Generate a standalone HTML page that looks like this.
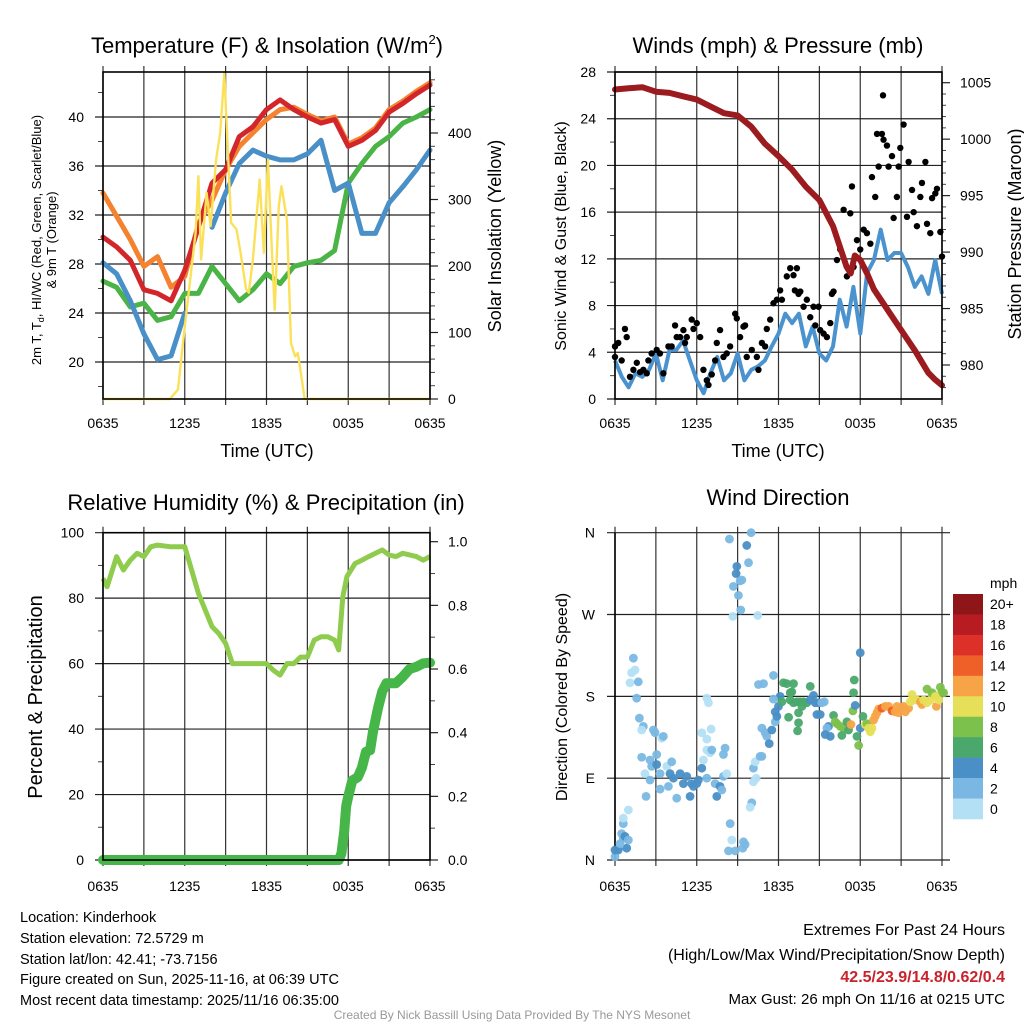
<!DOCTYPE html>
<html><head><meta charset="utf-8">
<style>
html,body{margin:0;padding:0;background:#fff;}
svg{display:block;font-family:"Liberation Sans",sans-serif;}
</style></head>
<body>
<svg id="fig" width="1024" height="1024" viewBox="0 0 1024 1024" xmlns="http://www.w3.org/2000/svg">
<rect x="0" y="0" width="1024" height="1024" fill="#fff"/>
<g id="layer"></g>
<text x="267" y="53" font-size="22" text-anchor="middle">Temperature (F) &amp; Insolation (W/m<tspan font-size="13" dy="-9">2</tspan><tspan dy="9">)</tspan></text>
<text x="778" y="53" font-size="22" text-anchor="middle">Winds (mph) &amp; Pressure (mb)</text>
<text x="266" y="510" font-size="22" text-anchor="middle">Relative Humidity (%) &amp; Precipitation (in)</text>
<text x="778" y="505" font-size="22" text-anchor="middle">Wind Direction</text>
<text x="267" y="457" font-size="18" text-anchor="middle">Time (UTC)</text>
<text x="778" y="457" font-size="18" text-anchor="middle">Time (UTC)</text>
<text transform="translate(41,240) rotate(-90)" font-size="13" text-anchor="middle">2m T, T<tspan font-size="9" dy="3">d</tspan><tspan dy="-3">, HI/WC (Red, Green, Scarlet/Blue)</tspan></text>
<text transform="translate(56,240) rotate(-90)" font-size="13" text-anchor="middle">&amp; 9m T (Orange)</text>
<text transform="translate(501,236) rotate(-90)" font-size="18" text-anchor="middle">Solar Insolation (Yellow)</text>
<text transform="translate(566,236) rotate(-90)" font-size="16" text-anchor="middle">Sonic Wind &amp; Gust (Blue, Black)</text>
<text transform="translate(1021,234) rotate(-90)" font-size="18" text-anchor="middle">Station Pressure (Maroon)</text>
<text transform="translate(42,697) rotate(-90)" font-size="20" text-anchor="middle">Percent &amp; Precipitation</text>
<text transform="translate(567,697) rotate(-90)" font-size="16" text-anchor="middle">Direction (Colored By Speed)</text>
<g font-size="14.5">
<text x="20" y="922">Location: Kinderhook</text>
<text x="20" y="943">Station elevation: 72.5729 m</text>
<text x="20" y="964">Station lat/lon: 42.41; -73.7156</text>
<text x="20" y="984">Figure created on Sun, 2025-11-16, at 06:39 UTC</text>
<text x="20" y="1005">Most recent data timestamp: 2025/11/16 06:35:00</text>
</g>
<g font-size="16" text-anchor="end">
<text x="1005" y="935">Extremes For Past 24 Hours</text>
<text x="1005" y="960">(High/Low/Max Wind/Precipitation/Snow Depth)</text>
<text x="1005" y="982" fill="#c8232c" font-weight="bold">42.5/23.9/14.8/0.62/0.4</text>
<text x="1005" y="1004" font-size="15">Max Gust: 26 mph On 11/16 at 0215 UTC</text>
</g>
<text x="512" y="1019" font-size="12" fill="#999" text-anchor="middle">Created By Nick Bassill Using Data Provided By The NYS Mesonet</text>
</svg>
<script>
// ---------- DATA ----------
const xTickLabels = ["0635","1235","1835","0035","0635"];
const hours = [0,1,2,3,4,5,6,7,8,9,10,11,12,13,14,15,16,17,18,19,20,21,22,23,24];
const tempRed = [30.2,29.4,28.3,25.9,25.6,25,27.5,31,34.6,35.7,38.4,39.2,40.6,41.4,40.6,40,39.5,39.8,37.6,38.1,38.9,40.4,41.1,41.9,42.6];
const tempOrange = [33.8,31.9,30,27.8,28.6,26.1,27,31.3,33.2,35.7,37.6,38.7,39.8,40.6,40.8,40.2,39.7,40,37.8,38.3,39.1,40.6,41.3,42.1,42.8];
const tempGreen = [26.6,26.1,24.5,24.8,23.4,23.7,25.6,25.6,27.8,26.4,25,25.9,27.2,26.4,27.8,28.1,28.3,29.1,34.6,36.2,37.6,38.4,39.5,40,40.6];
const tempBlue = [28.1,27.2,25,22.3,20.2,20.5,24,null,31,33.8,36.2,37.3,36.8,36.5,36.5,37,38.1,34,34.6,30.5,30.5,33,34.3,35.7,37.3];
const solarHours = [0,4.9,5.5,6,6.8,7,7.2,7.6,7.9,8.3,8.6,8.9,9.2,9.4,9.8,10.1,10.5,10.7,11,11.5,11.8,12.1,12.4,12.6,12.9,13.1,13.5,13.8,14.1,14.3,14.6,14.8,24];
const solarValues = [0,0,14,109,250,335,210,310,260,360,400,490,360,265,255,220,165,160,210,330,220,360,220,134,290,320,270,84,64,69,29,0,0];
const tempTicks = [20,24,28,32,36,40];
const solarTicks = [0,100,200,300,400];

const windBlue = [3.3,1.9,1,2.2,1.9,2.5,3.9,1.6,4.2,4.2,5,3.3,1.6,0.5,2.2,3.6,1.6,2.2,3.9,1.6,2.5,2.8,3.3,4.5,5.6,7.3,6.5,7.3,4.5,6.2,3.9,3.3,4.5,8.5,6.2,9.6,5.6,10.8,11.9,14.5,11.9,12.5,12.5,11.3,9.6,10.5,9,11.9,9];
const pressureHours = [0,1,2,3,4,5,6,7,8,9,10,11,12,13,14,15,16,17,17.3,17.6,18,18.5,19,20,21,22,23,23.5,24];
const pressureValues = [1004.4,1004.5,1004.6,1004.2,1004.1,1003.8,1003.5,1002.9,1002.3,1002.1,1001.1,999.6,998.5,997.3,995.8,994.6,992.3,988.7,988.1,989.7,989.3,988.1,986.7,984.9,983.1,981.3,979.3,978.7,978.2];
const gustHours = [0,0,0.24,0.49,0.73,0.86,1.1,1.35,1.6,1.84,2.08,2.33,2.45,2.69,3.06,3.3,3.55,3.92,4.16,4.41,4.53,4.78,5.02,5.14,5.27,5.63,5.76,6,6.25,6.49,6.74,6.86,7.1,7.35,7.47,7.71,7.96,8.2,8.45,8.82,8.94,9.18,9.43,9.55,9.67,10.04,10.41,10.53,10.78,11.02,11.14,11.39,11.63,11.88,12.12,12.25,12.61,12.86,13.1,13.35,13.2,13.47,13.6,13.84,14.08,14.33,14.57,14.7,14.94,15.06,15.31,15.55,15.8,15.92,16.04,16.29,16.53,16.78,17.02,17.27,17.39,17.51,17.76,18,18.25,18.49,18.74,18.86,19.1,19.23,19.35,19.59,19.67,19.71,19.96,20.08,20.33,20.45,20.69,20.82,20.94,21.18,21.43,21.55,21.8,21.92,22.16,22.41,22.53,22.78,22.9,23.14,23.27,23.51,23.63,23.88,24];
const gustValues = [3.6,4.5,4.8,3.3,6,5.3,1.9,2.5,3.1,2.3,2.5,2.2,3.3,3.9,4.2,3.9,2.2,4.5,4.5,6.3,5.3,5.3,5.9,4.8,5.3,6.8,6,6.5,5.3,2.5,1.6,1.2,2.1,3.3,4.8,5.9,3.6,3.9,4.5,7.3,6.9,5.3,6.2,6.3,3.6,4.2,3.6,2.5,4.8,4.5,6,6.8,8.2,8.5,9.3,8.5,10.5,11.2,10.6,11.2,9.3,9,9.2,7.9,8.5,7,7.9,6.3,7.9,5.9,5.6,5.3,6.5,9,9.2,11.9,12.8,16.2,10.5,15.9,18.2,11.3,13.6,12.8,14.5,14.2,13.3,19,17.3,22.7,19.9,22.7,26,22.2,21.7,19.9,20.8,15.5,17.3,19.9,21.5,23.5,15.6,20.3,17.9,16,14.8,17.3,18.5,20.3,15,14.2,17.2,17.6,18,14.3,12.2];
const windTicks = [0,4,8,12,16,20,24,28];
const pressureTicks = [980,985,990,995,1000,1005];

const rhHours = [0,0.3,1,1.5,2,2.5,3,3.5,4,5,6,6.5,7,7.5,8,8.5,9,9.5,10,11,12,12.5,13,13.5,14,14.5,15,15.5,16,16.5,17,17.3,17.6,17.9,18.5,19,19.5,20,20.5,21,21.5,22,23,23.5,24];
const rhValues = [86,83.5,92.7,88.6,91.6,93.7,92.7,95.7,96.2,95.7,95.7,88.6,81.5,76.4,71.3,69.2,66.2,60,60,60,60,58,56.5,60,60,62,62,67.2,68.2,68.2,67.2,64.2,80.4,86.6,90.6,91.6,92.7,93.7,94.7,93.2,92.7,93.7,92.7,91.6,92.7];
const precipHours = [0,17.3,17.5,17.7,17.85,18,18.3,18.7,19,19.3,19.6,19.8,20,20.2,20.5,20.8,21.5,22,22.5,23,23.5,24];
const precipValues = [0,0,0.02,0.09,0.17,0.2,0.25,0.26,0.29,0.34,0.345,0.4,0.44,0.48,0.53,0.555,0.555,0.576,0.6,0.607,0.618,0.62];
const rhTicks = [0,20,40,60,80,100];
const precipTicks = [0,0.2,0.4,0.6,0.8,1.0];

const dirHours = [
0,0,0.24,0.86,0.37,0.61,0.49,0.73,0.98,0.61,
0.61,0.98,1.35,1.47,1.22,1.1,1.71,1.59,1.79,2.08,
1.96,2.82,2.94,3.43,3.55,1.96,2.57,3.06,2.69,2.2,
3.06,3.31,3.8,4.16,4.04,4.29,4.78,5.02,5.27,5.63,
5.76,6.12,6.0,2.57,3.31,3.92,4.53,5.51,2.28,6.74,
6.37,6.49,6.74,6.98,7.1,6.37,6.74,7.05,6.74,6.86,
7.35,7.71,7.47,7.84,7.96,7.96,8.08,8.2,8.4,8.94,
8.89,8.69,9.18,9.31,9.06,9.23,8.65,9.67,9.8,9.99,
10.48,8.45,8.57,8.33,8.82,9.43,9.55,9.38,10.04,9.92,
10.16,10.36,10.16,10.29,10.65,10.78,10.78,11.02,11.14,11.32,
11.51,11.76,11.88,11.76,12.0,12.12,11.63,10.53,10.9,11.63,
12.37,12.61,13.1,12.25,12.86,13.1,13.35,13.59,13.72,13.84,
14.08,13.47,12.74,13.47,13.4,14.33,14.33,14.57,14.7,14.94,
15.18,15.36,14.82,15.06,12.98,12.86,16.04,15.67,15.55,15.43,
15.8,16.16,16.29,16.53,16.78,16.65,17.02,17.14,17.32,17.46,
17.63,17.51,17.56,18.0,17.76,17.88,18.0,18.2,18.37,18.49,
18.61,18.74,18.86,18.98,19.1,19.23,19.35,19.59,19.84,20.08,
20.33,20.57,20.7,20.82,20.99,21.19,21.31,21.55,21.67,21.92,
21.8,22.16,22.41,22.53,22.65,22.9,23.14,23.39,22.9,23.27,
23.59,23.76,23.88,24.0,24.12,23.51];
const dirDegrees = [
3.7,11,11,13,18,24,29,26,22,40,
46,55,222,209,206,195,196,178,156,147,
143,143,140,134,136,113,110,116,103,95,
105,95,103,108,95,90,95,84,92,84,
81,88,84,88,78,81,68,70,70,90,
101,110,121,118,121,140,133,144,178,173,
84,81,70,77,92,116,123,95,353,323,
315,301,307,308,291,275,268,346,327,360,
269,40,22,10,10,20,17,13,63,58,
86,90,101,108,114,114,145,140,136,128,
143,152,158,163,169,180,177,193,194,203,
195,194,194,174,176,173,174,174,169,174,
173,162,157,151,142,191,176,181,173,173,
173,174,160,160,185,184,159,147,145,138,
136,152,150,147,145,137,152,143,149,164,
170,184,198,228,136,126,145,158,149,150,
145,141,145,154,158,162,166,167,169,169,
164,163,169,162,167,169,163,167,174,176,
182,176,174,171,176,173,176,182,188,184,
169,176,190,185,184,180];
const dirSpeed = [
3,5,5,5,3,3,3,5,3,3,
1,1,3,1,1,1,3,3,3,3,
1,3,3,1,3,3,3,3,3,1,
5,3,1,3,5,5,5,5,5,5,
5,5,5,3,3,3,3,5,3,3,
5,1,1,1,3,1,1,1,1,1,
3,5,5,3,3,3,3,1,3,5,
5,3,3,3,3,3,1,5,3,3,
1,3,1,3,3,3,3,3,3,1,
1,1,3,1,3,3,3,3,3,5,
5,3,5,5,5,5,3,3,3,3,
7,7,7,7,7,7,7,7,7,7,
7,7,7,7,7,7,5,5,5,5,
3,3,5,5,7,7,7,5,3,5,
5,9,9,9,9,7,7,7,13,9,
5,7,7,5,7,9,5,7,11,9,
11,11,11,13,13,13,13,15,13,13,
15,13,13,13,13,13,13,13,11,11,
11,11,13,13,11,11,11,11,9,9,
13,11,9,9,9,11];
const speedBins = [0,2,4,6,8,10,12,14,16,18,20];
const speedColors = ["#b3e0f5","#7ab8e3","#4a8fc6","#4aa86c","#7cc14b","#e6df58","#f7a446","#ef6029","#dc3028","#b71c23","#8e1518"];
const speedLabels = ["0","2","4","6","8","10","12","14","16","18","20+"];
const dirTicks = [0,90,180,270,360];
const dirLabels = ["N","E","S","W","N"];

// ---------- HELPERS ----------
const NS = "http://www.w3.org/2000/svg";
const layer = document.getElementById('layer');
function mk(tag, attrs, parent){ const e=document.createElementNS(NS,tag); for(const k in attrs) e.setAttribute(k,attrs[k]); (parent||layer).appendChild(e); return e; }
function lin(d0,d1,r0,r1){ return v => r0 + (v-d0)/(d1-d0)*(r1-r0); }
function pathFrom(xs, ys, xf, yf){ let d="", pen=false; for(let i=0;i<xs.length;i++){ if(ys[i]===null||ys[i]===undefined){pen=false;continue;} d+=(pen?"L":"M")+xf(xs[i]).toFixed(1)+","+yf(ys[i]).toFixed(1); pen=true;} return d; }

function frame(name, x0, x1, y0, y1){
  const g = mk('g',{});
  
  
  for(let i=0;i<=8;i++){ const x=x0+(x1-x0)*i/8;
    mk('line',{x1:x,y1:y0-6,x2:x,y2:y1+6,stroke:'#333','stroke-width':1.2},g);
  }
  return g;
}
function xLabels(name,x0,x1,y){
  const g=mk('g',{'font-size':14,'text-anchor':'middle'});
  
  
  xTickLabels.forEach((t,i)=>{ const e=mk('text',{x:x0+(x1-x0)*i/4,y:y},g); e.textContent=t; });
}
function hLines(g, ticks, yf, x0, x1){ ticks.forEach(v=>{ mk('line',{x1:x0-8,y1:yf(v),x2:x1,y2:yf(v),stroke:'#222','stroke-width':1.2},g); }); }
function yLabels(name, ticks, labels, yf, x, anchor){
  const g=mk('g',{'font-size':14,'text-anchor':anchor});
  
  
  ticks.forEach((v,i)=>{ const e=mk('text',{x:x,y:yf(v)+5},g); e.textContent=labels?labels[i]:String(v); });
}
function minorTicks(vals, yf, x, dir, len){ vals.forEach(v=>mk('line',{x1:x,y1:yf(v),x2:x+dir*len,y2:yf(v),stroke:'#444','stroke-width':1})); }
function border(x0,x1,y0,y1){ mk('rect',{x:x0,y:y0,width:x1-x0,height:y1-y0,fill:'none',stroke:'#000','stroke-width':1.6}); }

// ---------- PANEL 1: Temperature ----------
(function(){
  const X=lin(0,24,103,430), Y=lin(40,28,117,264), S=lin(0,400,399,133);
  const g=frame('temp',103,430,72,399);
  hLines(g,tempTicks,Y,103,430);
  const mt=[]; for(let t=18;t<=43;t+=2) if(tempTicks.indexOf(t)<0) mt.push(t); minorTicks(mt,Y,103,-1,5);
  const ms=[]; for(let s=20;s<=480;s+=20) if(s%100) ms.push(s); minorTicks(ms,S,430,1,5);
  solarTicks.forEach(v=>mk('line',{x1:430,y1:S(v),x2:438,y2:S(v),stroke:'#222','stroke-width':1.2}));
  yLabels('temp-y-tick-labels',tempTicks,null,Y,84,'end');
  yLabels('solar-y-tick-labels',solarTicks,null,S,448,'start');
  xLabels('temp',103,430,428);
  const series=[[tempGreen,'#4bb446','green-dewpoint-line'],[tempBlue,'#4a90c8','blue-windchill-line'],[tempOrange,'#f4822f','orange-9m-temp-line'],[tempRed,'#d3262b','red-2m-temp-line']];
  series.forEach(s=>{ const p=mk('path',{d:pathFrom(hours,s[0],X,Y),fill:'none',stroke:s[1],'stroke-width':5,'stroke-linejoin':'round','stroke-linecap':'round'});
    
     });
  const sp=mk('path',{d:pathFrom(solarHours,solarValues,X,S),fill:'none',stroke:'#fbe15a','stroke-width':2.4,'stroke-linejoin':'round'});
  
  
  border(103,430,72,399);
})();

// ---------- PANEL 2: Winds ----------
(function(){
  const X=lin(0,24,615,942), W=lin(0,28,399,72), P=lin(1005,980,82.7,365);
  const g=frame('wind',615,942,72,399);
  hLines(g,windTicks,W,615,942);
  const mw=[]; for(let w=2;w<28;w+=4) mw.push(w); minorTicks(mw,W,615,-1,5);
  const mp=[]; for(let p=978;p<=1005;p++) if(p%5) mp.push(p); minorTicks(mp,P,942,1,4);
  pressureTicks.forEach(v=>mk('line',{x1:942,y1:P(v),x2:950,y2:P(v),stroke:'#222','stroke-width':1.2}));
  yLabels('wind-y-tick-labels',windTicks,null,W,596,'end');
  yLabels('pressure-y-tick-labels',pressureTicks,null,P,960,'start');
  xLabels('wind',615,942,428);
  const bh = windBlue.map((v,i)=>i*0.5);
  const wl=mk('path',{d:pathFrom(bh,windBlue,X,W),fill:'none',stroke:'#4a93cf','stroke-width':4,'stroke-linejoin':'round'});
  
  
  const gg=mk('g',{fill:'#000'});
  
  
  gustHours.forEach((h,i)=>mk('circle',{cx:X(h),cy:W(gustValues[i]),r:3.2},gg));
  const pl=mk('path',{d:pathFrom(pressureHours,pressureValues,X,P),fill:'none',stroke:'#9b1b1e','stroke-width':6,'stroke-linejoin':'round','stroke-linecap':'round'});
  
  
  border(615,942,72,399);
})();

// ---------- PANEL 3: RH & Precip ----------
(function(){
  const X=lin(0,24,103,430), R=lin(0,100,860,532.7), Pr=lin(0,1,860,541.7);
  const g=frame('rh',103,430,532.7,860);
  hLines(g,rhTicks,R,103,430);
  const mr=[]; for(let r=10;r<100;r+=20) mr.push(r); minorTicks(mr,R,103,-1,5);
  const mp=[]; for(let p=0.1;p<1.05;p+=0.2) mp.push(p); minorTicks(mp,Pr,430,1,5);
  precipTicks.forEach(v=>mk('line',{x1:430,y1:Pr(v),x2:438,y2:Pr(v),stroke:'#222','stroke-width':1.2}));
  yLabels('rh-y-tick-labels',rhTicks,null,R,84,'end');
  yLabels('precip-y-tick-labels',precipTicks,precipTicks.map(v=>v.toFixed(1)),Pr,448,'start');
  xLabels('rh',103,430,891);
  const rl=mk('path',{d:pathFrom(rhHours,rhValues,X,R),fill:'none',stroke:'#8fcc4e','stroke-width':5,'stroke-linejoin':'round'});
  
  
  const pl=mk('path',{d:pathFrom(precipHours,precipValues,X,Pr),fill:'none',stroke:'#46b648','stroke-width':10,'stroke-linejoin':'round','stroke-linecap':'round'});
  
  
  border(103,430,532.7,860);
})();

// ---------- PANEL 4: Wind Direction ----------
(function(){
  const X=lin(0,24,615,942), D=lin(0,360,860,532.7);
  const g=frame('direction',615,942,532.7,860);
  hLines(g,dirTicks,D,615,950);
  mk('line',{x1:615,y1:532.7,x2:615,y2:860,stroke:'#000','stroke-width':1.6});
  yLabels('direction-y-tick-labels',dirTicks,dirLabels,D,595,'end');
  xLabels('direction',615,942,891);
  function col(s){ let c=0; for(let i=0;i<speedBins.length;i++) if(s>=speedBins[i]) c=i; return speedColors[c]; }
  const pg=mk('g',{});
  
  
  const n=Math.min(dirHours.length,dirDegrees.length,dirSpeed.length);
  for(let i=0;i<n;i++) mk('circle',{cx:X(dirHours[i]),cy:D(dirDegrees[i]),r:4.4,fill:col(dirSpeed[i]),'fill-opacity':0.95},pg);
  // colorbar
  const cb=mk('g',{});
  
  
  const top=594, bh=225/speedColors.length;
  for(let i=0;i<speedColors.length;i++){
    const idx=speedColors.length-1-i;
    mk('rect',{x:953,y:top+i*bh,width:30,height:bh+0.3,fill:speedColors[idx]},cb);
    const t=mk('text',{x:990,y:top+i*bh+bh/2+5,'font-size':14},cb); t.textContent=speedLabels[idx];
  }
  const u=mk('text',{x:990,y:588,'font-size':14},cb); u.textContent='mph';
})();
</script>
</body></html>
